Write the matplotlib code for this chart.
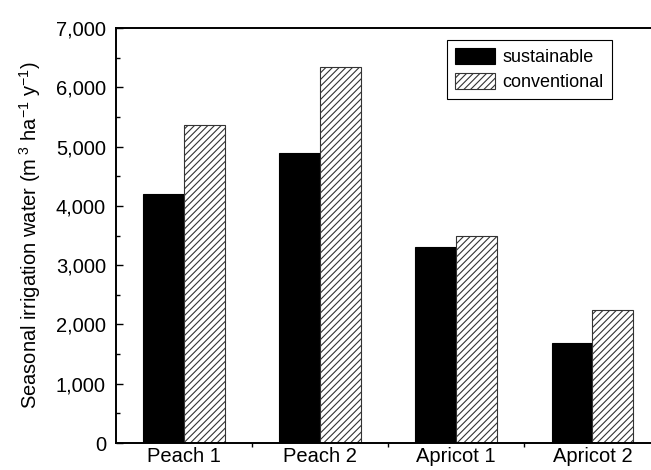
import matplotlib
matplotlib.use("Agg")
import matplotlib.pyplot as plt
import numpy as np
from matplotlib.ticker import FuncFormatter, MultipleLocator

plt.rcParams["font.family"] = ["Liberation Sans", "DejaVu Sans"]
plt.rcParams["mathtext.fontset"] = "custom"
plt.rcParams["mathtext.rm"] = "Liberation Sans"
plt.rcParams["mathtext.it"] = "Liberation Sans"
plt.rcParams["hatch.linewidth"] = 0.8

# data
sites = ["Peach 1", "Peach 2", "Apricot 1", "Apricot 2"]
sustainable = [4200, 4900, 3300, 1680]
conventional = [5360, 6340, 3500, 2240]

fig = plt.figure(figsize=(6.51, 4.70), dpi=100, facecolor="white")
# right edge of the frame runs off the picture like the original
ax = fig.add_axes([0.1777, 0.0574, 0.8369, 0.8830])

x = np.arange(len(sites))
w = 0.30
ax.bar(x - w / 2, sustainable, w, color="black", edgecolor="black",
       linewidth=0.8, label="sustainable")
ax.bar(x + w / 2, conventional, w, color="white", edgecolor="#333333",
       hatch="/////", linewidth=0.8, label="conventional")

ax.set_xlim(-0.5, 3.5)
ax.set_ylim(0, 7000)

# y axis: inward ticks, thousands separators
ax.yaxis.set_major_locator(MultipleLocator(1000))
ax.yaxis.set_minor_locator(MultipleLocator(500))
ax.yaxis.set_major_formatter(FuncFormatter(lambda v, p: f"{v:,.0f}"))
ax.tick_params(axis="y", which="major", direction="in", length=5,
               width=1.0, labelsize=14.5, pad=7)
ax.tick_params(axis="y", which="minor", direction="in", length=3, width=1.0)

# x axis: ticks between groups, labels at group centres
ax.set_xticks([0.5, 1.5, 2.5])
ax.set_xticklabels(["", "", ""])
ax.set_xticks(x, minor=True)
ax.set_xticklabels(sites, minor=True)
ax.tick_params(axis="x", which="major", direction="out", length=3, width=1.0)
ax.tick_params(axis="x", which="minor", length=0, labelsize=14.5, pad=3)

for s in ax.spines.values():
    s.set_linewidth(1.4)

ax.set_ylabel(r"Seasonal irrigation water (m$^{\ 3}$ ha$^{-1}$ y$^{-1}$)",
              fontsize=14.5, labelpad=9)

leg = ax.legend(loc="upper left", bbox_to_anchor=(0.687, 0.915),
                bbox_transform=fig.transFigure, borderaxespad=0,
                fontsize=13, fancybox=False, framealpha=1,
                edgecolor="black", handlelength=2.2, handleheight=0.95,
                handletextpad=0.4, labelspacing=0.4, borderpad=0.45)
leg.get_frame().set_linewidth(0.8)

fig.savefig("out.png", dpi=100, facecolor="white")
